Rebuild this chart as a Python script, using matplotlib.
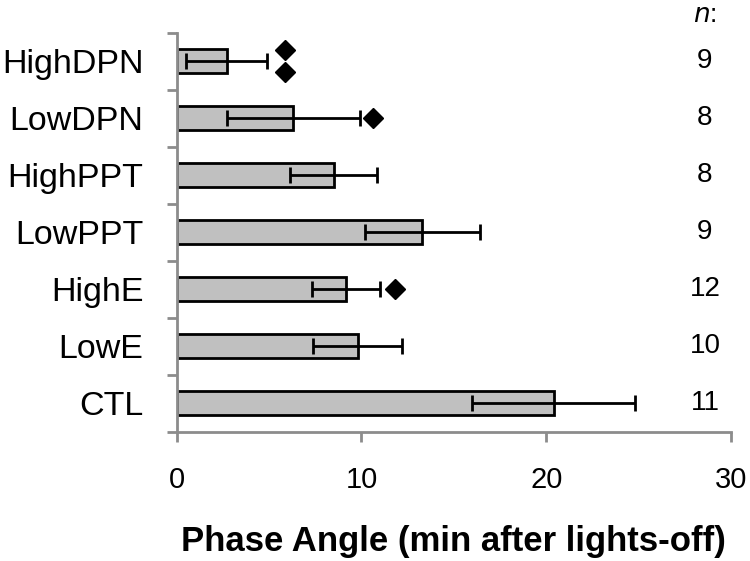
import matplotlib
matplotlib.use("Agg")
import matplotlib.pyplot as plt
import numpy as np

plt.rcParams['font.family'] = ['Liberation Sans', 'DejaVu Sans']

categories = ["CTL", "LowE", "HighE", "LowPPT", "HighPPT", "LowDPN", "HighDPN"]
means = [20.4, 9.8, 9.15, 13.3, 8.5, 6.3, 2.7]
errors = [4.4, 2.4, 1.85, 3.1, 2.35, 3.6, 2.2]
n_values = ["11", "10", "12", "9", "8", "8", "9"]
# significance markers: (category, x value, y offset within category)
sig_cat = ["HighDPN", "HighDPN", "LowDPN", "HighE"]
sig_x = [5.85, 5.85, 10.6, 11.8]
sig_dy = [0.19, -0.19, 0.0, 0.0]

fig = plt.figure(figsize=(7.5, 5.61), dpi=100)
L, R, T, B = 176.7, 731.0, 32.7, 431.7
ax = fig.add_axes([L/750, 1-B/561, (R-L)/750, (B-T)/561])

y = np.arange(len(categories))
ax.barh(y, means, height=0.43, color="#c0c0c0", edgecolor="black", linewidth=2, zorder=2)
ax.errorbar(means, y, xerr=errors, fmt="none", ecolor="black", elinewidth=2,
            capsize=5.5, capthick=2, zorder=3)

for c, xv, dy in zip(sig_cat, sig_x, sig_dy):
    ax.plot(xv, categories.index(c) + dy, marker="D", color="black", markersize=10.5, zorder=4)

ax.set_xlim(0, 30)
ax.set_ylim(-0.5, len(categories) - 0.5)
ax.set_xticks([0, 10, 20, 30])
ax.set_xticklabels(["0", "10", "20", "30"], fontsize=21)
ax.set_yticks(y)
ax.set_yticklabels(categories, fontsize=24.5)
ax.set_yticks(np.arange(-0.5, len(categories), 1.0), minor=True)
ax.tick_params(axis="y", which="major", length=0, pad=24)
ax.tick_params(axis="y", which="minor", length=7.5, width=2, color="#8c8c8c")
ax.tick_params(axis="x", which="major", length=7, width=2, color="#8c8c8c", pad=18)

for s in ["top", "right"]:
    ax.spines[s].set_visible(False)
for s in ["left", "bottom"]:
    ax.spines[s].set_color("#8c8c8c")
    ax.spines[s].set_linewidth(2)

# n column
fig.text(705/750, 1-15/561, r"$\it{n}$:", fontsize=19, ha="center", va="center")
xn = (705 - L) / (R - L)
for yi, nv in zip(y, n_values):
    ax.text(xn, yi, nv, transform=ax.get_yaxis_transform(), fontsize=20, ha="center", va="center")

fig.text((L + R) / 2 / 750, 1-551/561, "Phase Angle (min after lights-off)", fontsize=25,
         fontweight="bold", ha="center", va="baseline")

fig.savefig("out.png", dpi=100)
